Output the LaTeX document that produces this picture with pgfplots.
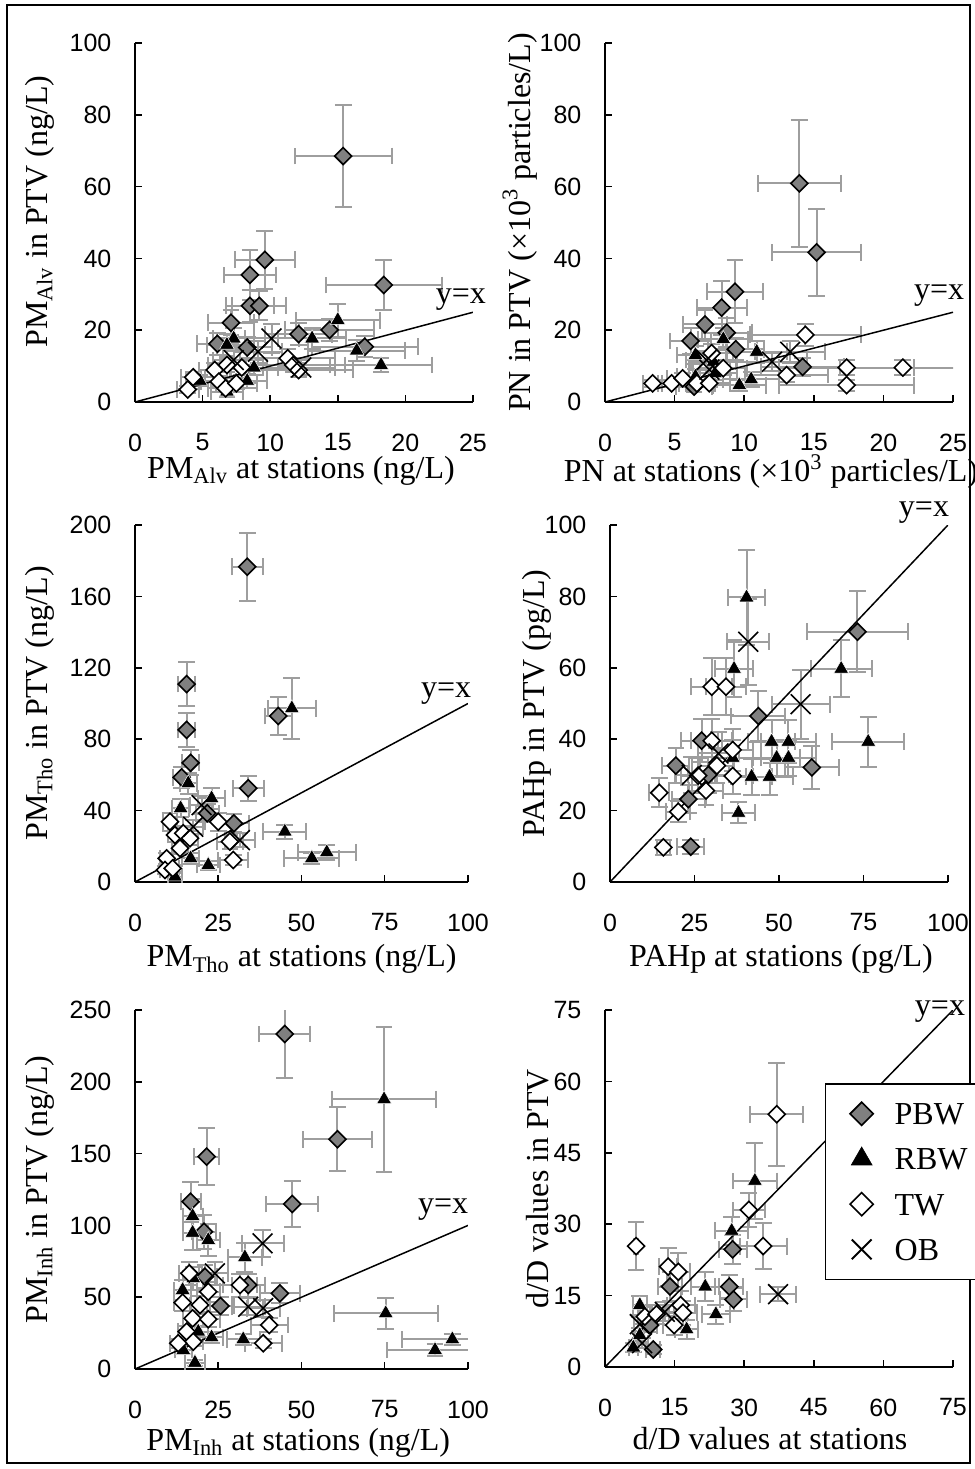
\documentclass[border=0pt]{standalone}
\usepackage{fontspec}
\setmainfont{Liberation Serif}
\setsansfont{Liberation Sans}
\usepackage{pgfplots}
\pgfplotsset{compat=1.18}
\definecolor{pbw}{RGB}{128,128,128}
\definecolor{ebar}{RGB}{158,158,158}
\pgfplotsset{
  panel/.style={scale only axis, anchor=south west,
    axis x line*=bottom, axis y line*=left,
    tick align=inside, major tick length=3.3pt,
    axis line style={line width=0.75pt, black},
    every tick/.style={line width=0.75pt, black},
    tick label style={font=\fontsize{12.5}{14}\selectfont\sffamily},
    /pgf/number format/assume math mode=true,
    xticklabel style={yshift=-12.3pt},
    yticklabel style={xshift=-8.3pt},
    label style={font=\fontsize{16}{19}\selectfont},
    xmin=0, ymin=0},
  eb/.style={error bars/x dir=both, error bars/y dir=both,
    error bars/x explicit, error bars/y explicit,
    error bars/error bar style={draw=ebar, line width=1pt},
    error bars/error mark options={rotate=90, draw=ebar, line width=1pt, mark size=4.2pt}},
  pbw/.style={only marks, mark=square*, mark size=3pt,
    mark options={rotate=45, fill=pbw, draw=black, line width=0.8pt}, eb},
  rbw/.style={only marks, mark=triangle*, mark size=4.3pt,
    mark options={fill=black, draw=white, line width=0.25pt}, eb},
  tw/.style={only marks, mark=square*, mark size=3pt,
    mark options={rotate=45, fill=white, draw=black, line width=0.8pt}, eb},
  ob/.style={only marks, mark=x, mark size=7pt,
    mark options={draw=black, line width=0.8pt}, eb},
  yx/.style={black, line width=0.75pt, forget plot},
}
\begin{document}
\begin{tikzpicture}
\useasboundingbox (0,0) rectangle (487.5pt,-734.5pt);
\draw[line width=0.75pt] (3.5pt,-2.5pt) rectangle (485pt,-731.5pt);

% ---------------- Panel 1 ----------------
\begin{axis}[panel, at={(67.5pt,-201pt)}, width=169pt, height=179.5pt,
  xmax=25, ymax=100, xtick={0,5,...,25}, ytick={0,20,...,100},
  xlabel={PM\textsubscript{Alv} at stations (ng/L)},
  ylabel={PM\textsubscript{Alv} in PTV (ng/L)},
  xlabel style={at={(axis description cs:0.491,-0.212)}, anchor=base},
  ylabel style={at={(axis description cs:-0.260,0.53)}, anchor=base}]
\addplot[pbw] table[x error=ex, y error=ey]{
x y ex ey
15.4 68.5 3.6 14.1
9.6 39.6 2.2 8.1
8.5 35.4 1.9 7.0
18.4 32.6 4.3 7.0
8.5 26.8 1.8 4.5
9.2 26.8 2.0 4.0
7.1 22.1 1.7 3.5
12.1 18.9 2.5 3.0
14.4 20.1 3.3 3.0
17.0 15.4 3.9 3.0
6.1 16.2 1.5 3.0
8.3 15.2 1.8 3.0
};
\addplot[rbw] table[x error=ex, y error=ey]{
x y ex ey
15.0 22.8 3.1 4.6
13.1 17.7 2.5 3.0
16.4 14.3 3.6 3.0
18.2 10.3 3.8 2.0
7.3 17.7 1.5 3.0
6.8 15.9 1.5 3.0
8.8 9.6 1.8 2.0
8.3 5.9 1.5 2.0
4.8 5.9 1.0 1.5
6.8 2.9 1.2 1.5
};
\addplot[tw] table[x error=ex, y error=ey]{
x y ex ey
3.9 3.5 0.8 1.0
4.3 6.9 0.9 1.5
5.9 8.9 1.2 2.0
6.8 10.3 1.4 2.0
7.9 9.6 1.6 2.0
6.2 5.7 1.3 1.5
6.7 3.8 1.3 1.0
7.5 5.2 1.5 1.5
11.3 12.2 3.5 2.5
11.7 10.3 3.8 2.0
12.1 8.9 4.0 2.0
};
\addplot[ob] table[x error=ex, y error=ey]{
x y ex ey
10.1 17.7 2.0 4.0
9.1 14.0 1.8 3.0
7.3 11.7 1.5 2.5
12.3 9.6 2.5 2.0
};
\addplot[yx] coordinates {(0,0) (25,25)};
\coordinate (L1) at (axis cs:24.1,28.4);
\end{axis}
\node[font=\fontsize{16}{19}\selectfont] at (L1) {y=x};

% ---------------- Panel 2 ----------------
\begin{axis}[panel, at={(302.5pt,-201pt)}, width=174pt, height=179.5pt,
  xmax=25, ymax=100, xtick={0,5,...,25}, ytick={0,20,...,100},
  xlabel={PN at stations (×10\textsuperscript{3} particles/L)},
  ylabel={PN in PTV (×10\textsuperscript{3} particles/L)},
  xlabel style={at={(axis description cs:0.477,-0.222)}, anchor=base},
  ylabel style={at={(axis description cs:-0.2155,0.5)}, anchor=base}]
\addplot[pbw] table[x error=ex, y error=ey]{
x y ex ey
13.96 60.9 2.97 17.6
15.2 41.7 3.2 12.2
9.34 30.7 2.0 8.8
8.38 26.3 1.8 7.5
7.18 21.6 1.6 4.0
8.74 19.3 1.8 4.0
6.15 17.0 1.5 3.5
9.4 14.7 2.0 3.0
14.2 9.8 3.0 2.5
6.4 4.3 1.3 1.5
};
\addplot[rbw] table[x error=ex, y error=ey]{
x y ex ey
8.5 17.5 1.8 3.0
10.9 14.0 2.2 3.0
6.5 13.1 1.3 2.5
7.8 11.2 1.6 2.5
7.9 8.0 1.6 2.0
10.5 6.3 2.0 2.0
9.65 4.7 1.9 1.5
6.5 7.1 1.3 2.0
};
\addplot[tw] table[x error=ex, y error=ey]{
x y ex ey
3.42 5.2 0.7 1.0
4.79 5.2 1.0 1.0
5.58 6.6 1.1 1.5
6.6 5.2 1.3 1.0
7.49 5.2 1.5 1.0
8.5 9.4 1.7 2.0
7.66 13.6 1.5 2.5
14.4 18.7 4.0 3.0
13.05 7.5 3.0 2.0
17.36 9.6 4.85 2.0
17.36 4.7 4.85 1.5
21.4 9.6 4.5 2.0
};
\addplot[ob] table[x error=ex, y error=ey]{
x y ex ey
13.3 14.0 2.5 3.0
12.0 11.2 2.5 2.5
7.3 11.7 1.5 2.5
7.5 9.0 1.5 2.0
};
\addplot[yx] coordinates {(0,0) (25,25)};
\coordinate (L2) at (axis cs:24.0,29.5);
\end{axis}
\node[font=\fontsize{16}{19}\selectfont] at (L2) {y=x};

% ---------------- Panel 3 ----------------
\begin{axis}[panel, at={(67.5pt,-441pt)}, width=166.5pt, height=178.5pt,
  xmax=100, ymax=200, xtick={0,25,...,100}, ytick={0,40,...,200},
  xlabel={PM\textsubscript{Tho} at stations (ng/L)},
  ylabel={PM\textsubscript{Tho} in PTV (ng/L)},
  xlabel style={at={(axis description cs:0.5,-0.238)}, anchor=base},
  ylabel style={at={(axis description cs:-0.264,0.5)}, anchor=base}]
\addplot[pbw] table[x error=ex, y error=ey]{
x y ex ey
33.7 176.6 4.65 19.0
15.5 110.9 2.5 12.5
15.5 85.2 2.5 9.3
16.7 66.8 2.5 7.0
14.0 58.6 2.5 6.0
43.0 93.0 4.0 10.7
34.0 52.5 4.7 6.9
21.7 38.5 3.5 5.0
29.7 32.9 4.5 5.0
};
\addplot[rbw] table[x error=ex, y error=ey]{
x y ex ey
47.1 97.3 7.3 17.0
16.0 55.3 2.5 6.0
23.0 46.9 4.0 6.0
13.7 41.3 2.5 5.0
45.0 28.2 6.5 4.0
57.6 16.6 8.8 4.0
53.1 13.3 8.3 3.0
16.7 13.3 2.5 3.0
22.0 9.5 3.5 2.5
12.0 3.0 2.0 2.0
};
\addplot[tw] table[x error=ex, y error=ey]{
x y ex ey
10.5 33.8 2.0 5.0
12.0 26.3 2.0 4.0
14.5 27.3 2.5 4.0
16.5 24.5 2.5 4.0
13.5 18.9 2.5 3.0
9.5 13.3 2.0 3.0
9.0 6.7 1.5 2.0
11.3 7.7 2.0 2.0
25.0 33.8 4.0 5.0
28.5 22.6 4.0 4.0
29.5 12.3 4.5 3.0
};
\addplot[ob] table[x error=ex, y error=ey]{
x y ex ey
20.0 43.1 3.5 5.0
17.5 31.0 3.0 4.0
31.5 23.5 4.5 4.0
};
\addplot[yx] coordinates {(0,0) (100,100)};
\coordinate (L3) at (axis cs:93.4,105.3);
\end{axis}
\node[font=\fontsize{16}{19}\selectfont] at (L3) {y=x};

% ---------------- Panel 4 ----------------
\begin{axis}[panel, at={(305pt,-441pt)}, width=169pt, height=178.5pt,
  xmax=100, ymax=100, xtick={0,25,...,100}, ytick={0,20,...,100},
  xlabel={PAHp at stations (pg/L)},
  ylabel={PAHp in PTV (pg/L)},
  xlabel style={at={(axis description cs:0.506,-0.238)}, anchor=base},
  ylabel style={at={(axis description cs:-0.195,0.5)}, anchor=base}]
\addplot[pbw] table[x error=ex, y error=ey]{
x y ex ey
73.2 70.1 14.9 11.4
43.9 46.5 8.0 7.0
27.1 39.6 6.0 6.0
19.5 32.6 4.0 5.0
59.7 32.1 8.0 6.0
29.1 30.0 6.0 5.0
23.2 23.2 5.0 4.0
23.9 9.9 4.0 2.0
};
\addplot[rbw] table[x error=ex, y error=ey]{
x y ex ey
40.4 79.7 5.6 13.4
36.7 59.7 5.5 8.0
68.4 59.7 9.0 8.0
76.4 39.3 10.7 7.0
47.8 39.3 7.0 6.0
52.8 39.3 8.0 6.0
49.3 34.8 7.0 5.0
52.8 34.8 8.0 5.0
36.3 34.8 6.0 5.0
41.9 29.5 6.0 5.0
47.2 29.5 7.0 5.0
38.0 19.4 5.0 3.0
};
\addplot[tw] table[x error=ex, y error=ey]{
x y ex ey
30.1 54.7 6.0 8.0
34.3 54.7 6.0 8.0
30.1 39.6 6.0 6.0
36.3 37.0 6.0 6.0
31.6 32.6 5.0 5.0
26.1 29.8 5.0 5.0
36.3 29.7 6.0 5.0
28.4 25.6 5.0 4.0
14.6 25.0 3.0 4.0
20.2 19.7 3.5 3.0
15.8 9.7 2.0 2.0
};
\addplot[ob] table[x error=ex, y error=ey]{
x y ex ey
40.9 67.3 6.2 12.0
56.4 49.8 8.6 9.6
32.1 36.0 6.0 6.0
24.2 30.0 5.0 5.0
};
\addplot[yx] coordinates {(0,0) (100,100)};
\coordinate (L4) at (axis cs:92.9,103.4);
\end{axis}
\node[font=\fontsize{16}{19}\selectfont] at (L4) {y=x};

% ---------------- Panel 5 ----------------
\begin{axis}[panel, at={(67.5pt,-684.5pt)}, width=166.5pt, height=179.5pt,
  xmax=100, ymax=250, xtick={0,25,...,100}, ytick={0,50,...,250},
  xlabel={PM\textsubscript{Inh} at stations (ng/L)},
  ylabel={PM\textsubscript{Inh} in PTV (ng/L)},
  xlabel style={at={(axis description cs:0.49,-0.226)}, anchor=base},
  ylabel style={at={(axis description cs:-0.264,0.5)}, anchor=base}]
\addplot[pbw] table[x error=ex, y error=ey]{
x y ex ey
45.0 233.3 7.7 30.9
60.8 160.0 10.4 22.4
21.5 147.9 3.8 19.7
47.2 114.9 7.9 15.7
16.7 116.5 3.0 14.0
20.7 95.6 3.5 12.0
21.0 64.3 3.5 8.0
34.0 58.5 5.0 8.0
43.5 52.7 6.0 7.0
25.7 43.9 4.0 6.0
};
\addplot[rbw] table[x error=ex, y error=ey]{
x y ex ey
74.8 187.8 15.5 50.7
17.3 106.5 3.0 12.0
17.3 94.9 3.0 12.0
22.0 89.8 3.5 11.0
33.0 77.8 5.0 10.0
17.5 63.2 3.0 8.0
14.3 55.0 2.5 7.0
19.0 26.0 3.0 4.0
23.0 22.1 3.5 4.0
32.5 20.7 5.0 4.0
14.5 13.2 2.5 3.0
18.0 4.4 3.0 2.0
75.3 38.8 15.6 11.0
95.3 20.7 15.0 4.0
90.1 13.2 14.3 4.0
};
\addplot[tw] table[x error=ex, y error=ey]{
x y ex ey
16.3 66.6 3.0 8.0
22.0 53.8 3.5 7.0
19.5 44.6 3.0 6.0
14.3 46.2 2.5 6.0
31.5 58.5 5.0 8.0
17.3 35.3 3.0 5.0
22.0 34.6 3.5 5.0
15.5 26.0 2.5 4.0
17.5 19.0 3.0 3.0
13.0 17.9 2.5 3.0
40.3 30.6 5.5 5.0
38.5 17.9 5.5 3.0
};
\addplot[ob] table[x error=ex, y error=ey]{
x y ex ey
38.3 87.5 6.3 9.3
24.0 66.6 4.0 8.0
34.0 43.4 5.0 6.0
38.5 42.4 5.0 6.0
};
\addplot[yx] coordinates {(0,0) (100,100)};
\coordinate (L5) at (axis cs:92.5,110.7);
\end{axis}
\node[font=\fontsize{16}{19}\selectfont] at (L5) {y=x};

% ---------------- Panel 6 ----------------
\begin{axis}[panel, at={(302.5pt,-683.5pt)}, width=174pt, height=178.5pt,
  xmax=75, ymax=75, xtick={0,15,...,75}, ytick={0,15,...,75},
  xlabel={d/D values at stations},
  ylabel={d/D values in PTV},
  xlabel style={at={(axis description cs:0.474,-0.232)}, anchor=base},
  ylabel style={at={(axis description cs:-0.161,0.5)}, anchor=base},
  legend style={at={(axis description cs:0.632,0.7955)}, anchor=north west,
    draw=black, line width=0.75pt, fill=white,
    font=\fontsize{16}{19}\selectfont, row sep=7.6pt,
    inner xsep=2pt, inner ysep=7.5pt,
    nodes={inner sep=2pt, text height=11pt, text depth=0pt}},
  legend image code/.code={\path[draw=none, fill=none] (-16pt,0pt) rectangle (14.5pt,0pt);
    \draw[#1] plot coordinates {(0pt,0pt)};},
  legend cell align=left]
\addplot[pbw, forget plot] table[x error=ex, y error=ey]{
x y ex ey
27.5 24.7 3.0 3.0
14.0 16.9 2.5 3.0
26.8 16.9 3.0 2.5
27.7 14.2 3.0 2.5
10.4 3.7 1.5 1.0
9.7 8.8 1.5 1.5
};
\addplot[rbw, forget plot] table[x error=ex, y error=ey]{
x y ex ey
32.3 39.1 4.7 7.9
27.3 28.6 3.5 3.0
21.6 16.9 3.0 3.0
23.9 11.1 3.0 2.0
17.6 7.9 2.5 2.0
7.5 13.0 1.5 2.0
7.5 6.7 1.0 1.5
6.1 4.1 1.0 1.0
};
\addplot[tw, forget plot] table[x error=ex, y error=ey]{
x y ex ey
37.0 53.1 5.7 10.8
31.0 33.0 3.5 3.5
34.1 25.4 5.1 4.8
6.7 25.4 0.5 5.0
13.6 21.1 2.0 4.0
15.8 20.0 2.5 4.0
16.3 13.0 3.0 3.0
16.8 11.4 3.0 2.5
8.6 10.6 1.5 2.0
11.1 11.1 1.5 2.0
14.9 8.8 2.5 2.0
};
\addplot[ob, forget plot] table[x error=ex, y error=ey]{
x y ex ey
37.3 15.3 3.8 1.5
12.9 11.6 2.0 2.0
7.5 9.0 1.2 1.5
8.0 5.0 1.2 1.0
};
\addplot[yx] coordinates {(0,0) (75,75)};
\coordinate (L6) at (axis cs:72.2,74.6);
\addlegendimage{only marks, mark=square*, mark size=4.1pt, mark options={rotate=45, fill=pbw, draw=black, line width=0.8pt}}
\addlegendentry{PBW}
\addlegendimage{only marks, mark=triangle*, mark size=6pt, mark options={fill=black, draw=black, line width=0.3pt}}
\addlegendentry{RBW}
\addlegendimage{only marks, mark=square*, mark size=4.1pt, mark options={rotate=45, fill=white, draw=black, line width=0.8pt}}
\addlegendentry{TW}
\addlegendimage{only marks, mark=x, mark size=7pt, mark options={draw=black, line width=1pt}}
\addlegendentry{OB}
\end{axis}
\node[font=\fontsize{16}{19}\selectfont] at (L6) {y=x};
\end{tikzpicture}
\end{document}
